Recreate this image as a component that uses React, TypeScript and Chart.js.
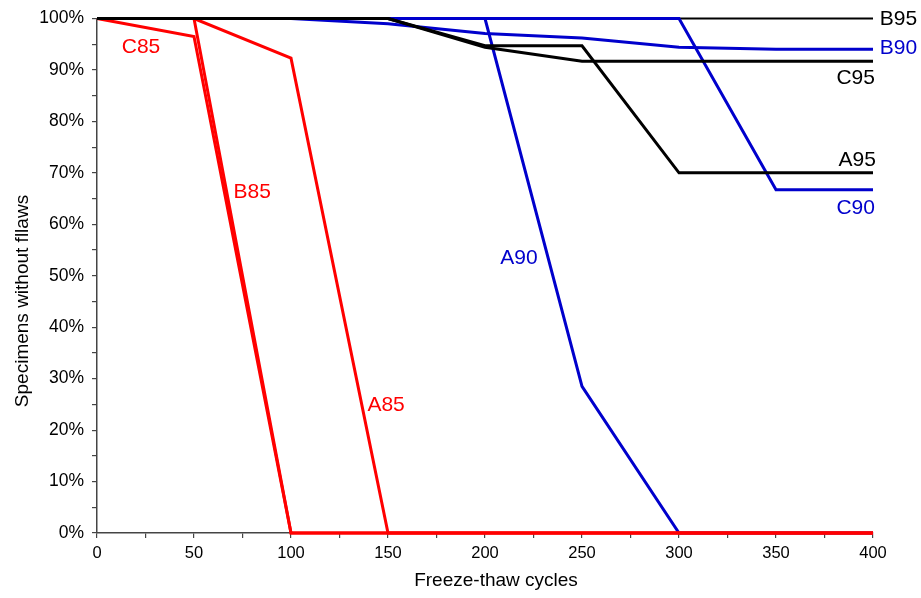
import React, { useEffect, useRef } from 'react';
import { Chart, registerables } from 'chart.js';
Chart.register(...registerables);

// ---- data ----
const A85_X = [0, 50, 100, 150, 400];
const A85_Y = [100, 100, 92.3, 0, 0];
const B85_X = [0, 50, 100, 400];
const B85_Y = [100, 100, 0, 0];
const C85_X = [0, 50, 100, 400];
const C85_Y = [100, 96.5, 0, 0];
const A90_X = [0, 200, 250, 300, 400];
const A90_Y = [100, 100, 28.5, 0, 0];
const B90_X = [0, 100, 150, 200, 250, 300, 350, 400];
const B90_Y = [100, 100, 99, 97.1, 96.2, 94.4, 94, 94];
const C90_X = [0, 300, 350, 400];
const C90_Y = [100, 100, 66.7, 66.7];
const A95_X = [0, 150, 200, 250, 300, 400];
const A95_Y = [100, 100, 94.7, 94.7, 70, 70];
const B95_X = [0, 400];
const B95_Y = [100, 100];
const C95_X = [0, 150, 200, 250, 400];
const C95_Y = [100, 100, 94.4, 91.7, 91.7];

const X_LABEL_STEP = 50;
const Y_LABEL_STEP = 10;

const X_TITLE = 'Freeze-thaw cycles';
const Y_TITLE = 'Specimens without fllaws';

const RED = '#ff0000';
const BLUE = '#0000cc';
const BLACK = '#000000';
const FONT = "'Liberation Sans', Arial, sans-serif";

type Lbl = { text: string; x: number; y: number; align: CanvasTextAlign; color: string };
const SERIES_LABELS: Lbl[] = [
  { text: 'C85', x: 22.7, y: 94.4, align: 'center', color: RED },
  { text: 'B85', x: 80, y: 66.2, align: 'center', color: RED },
  { text: 'A85', x: 149, y: 24.9, align: 'center', color: RED },
  { text: 'A90', x: 217.5, y: 53.4, align: 'center', color: BLUE },
  { text: 'B95', x: 403.5, y: 99.8, align: 'left', color: BLACK },
  { text: 'B90', x: 403.5, y: 94.2, align: 'left', color: BLUE },
  { text: 'C95', x: 401, y: 88.3, align: 'right', color: BLACK },
  { text: 'A95', x: 401.5, y: 72.5, align: 'right', color: BLACK },
  { text: 'C90', x: 401, y: 63.2, align: 'right', color: BLUE },
];

const pts = (xs: number[], ys: number[]) => xs.map((x, i) => ({ x, y: ys[i] }));

const labelPlugin = {
  id: 'seriesLabels',
  afterDraw(chart: any) {
    const ctx = chart.ctx as CanvasRenderingContext2D;
    const xs = chart.scales.x;
    const ys = chart.scales.y;
    ctx.save();
    ctx.font = `21px ${FONT}`;
    ctx.textBaseline = 'middle';
    for (const l of SERIES_LABELS) {
      ctx.fillStyle = l.color;
      ctx.textAlign = l.align;
      ctx.fillText(l.text, xs.getPixelForValue(l.x), ys.getPixelForValue(l.y));
    }
    // axis titles
    ctx.fillStyle = '#000';
    ctx.font = `19px ${FONT}`;
    ctx.textAlign = 'center';
    ctx.fillText(X_TITLE, 496, 581);
    ctx.translate(23, 301);
    ctx.rotate(-Math.PI / 2);
    ctx.fillText(Y_TITLE, 0, 0);
    ctx.restore();
  },
};

export default function App() {
  const ref = useRef<HTMLCanvasElement>(null);
  useEffect(() => {
    if (!ref.current) return;
    const common = { pointRadius: 0, tension: 0, fill: false, clip: false as any, borderJoinStyle: 'miter' as const };
    const chart = new Chart(ref.current, {
      type: 'line',
      data: {
        datasets: [
          { label: 'A95', data: pts(A95_X, A95_Y), borderColor: BLACK, borderWidth: 3, ...common },
          { label: 'C95', data: pts(C95_X, C95_Y), borderColor: BLACK, borderWidth: 3, ...common },
          { label: 'A85', data: pts(A85_X, A85_Y), borderColor: RED, borderWidth: 3, ...common },
          { label: 'B85', data: pts(B85_X, B85_Y), borderColor: RED, borderWidth: 3, ...common },
          { label: 'C85', data: pts(C85_X, C85_Y), borderColor: RED, borderWidth: 3, ...common },
          { label: 'C90', data: pts(C90_X, C90_Y), borderColor: BLUE, borderWidth: 3, ...common },
          { label: 'A90', data: pts(A90_X, A90_Y), borderColor: BLUE, borderWidth: 3, ...common },
          { label: 'B90', data: pts(B90_X, B90_Y), borderColor: BLUE, borderWidth: 3, ...common },
          { label: 'B95', data: pts(B95_X, B95_Y), borderColor: BLACK, borderWidth: 2, ...common },
        ],
      },
      options: {
        animation: false,
        responsive: false,
        devicePixelRatio: 1,
        parsing: false as any,
        layout: { padding: { top: 18, right: 48, left: 0, bottom: 0 } },
        plugins: { legend: { display: false }, tooltip: { enabled: false } },
        scales: {
          x: {
            type: 'linear',
            min: 0,
            max: 400,
            ticks: {
              stepSize: 25,
              autoSkip: false,
              maxRotation: 0,
              padding: 6,
              color: '#000',
              font: { size: 16.5, family: FONT },
              callback: (v: any) => (Number(v) % X_LABEL_STEP === 0 ? String(v) : ''),
            },
            grid: { drawOnChartArea: false, drawTicks: true, tickLength: 5, color: '#444', lineWidth: 1.2 },
            border: { color: '#444', width: 1.5 },
            afterFit: (s: any) => { s.height = 65; },
          },
          y: {
            type: 'linear',
            min: 0,
            max: 100,
            ticks: {
              stepSize: 5,
              autoSkip: false,
              padding: 8,
              color: '#000',
              font: { size: 17.5, family: FONT },
              callback: (v: any) => (Number(v) % Y_LABEL_STEP === 0 ? v + '%' : ''),
            },
            grid: { drawOnChartArea: false, drawTicks: true, tickLength: 5, color: '#444', lineWidth: 1.2 },
            border: { color: '#444', width: 1.5 },
            afterFit: (s: any) => { s.width = 97; },
          },
        },
      },
      plugins: [labelPlugin],
    });
    return () => chart.destroy();
  }, []);
  return (
    <div style={{ position: 'fixed', left: 0, top: 0, width: 921, height: 598, background: '#fff' }}>
      <canvas ref={ref} width={921} height={598} />
    </div>
  );
}
